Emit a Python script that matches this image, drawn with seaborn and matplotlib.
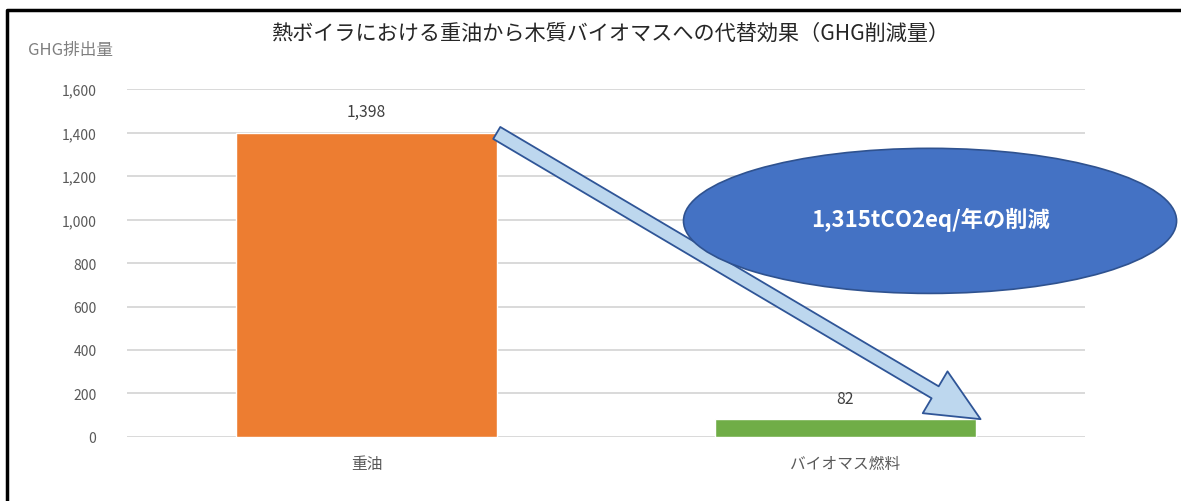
import matplotlib
matplotlib.use('Agg')
import matplotlib.pyplot as plt
import seaborn as sns
from matplotlib.patches import Ellipse, FancyArrowPatch
from matplotlib.lines import Line2D

# data
categories = ['重油', 'バイオマス燃料']
ghg_values = [1398, 82]
value_labels = ['1,398', '82']
bar_colors = ['#ED7D31', '#70AD47']
y_ticks = [0, 200, 400, 600, 800, 1000, 1200, 1400, 1600]
y_tick_labels = ['0', '200', '400', '600', '800', '1,000', '1,200', '1,400', '1,600']
title = '熱ボイラにおける重油から木質バイオマスへの代替効果（GHG削減量）'
y_label = 'GHG排出量'
callout = '1,315tCO2eq/年の削減'

sns.set_theme(style='white')
plt.rcParams['font.family'] = ['Noto Sans CJK JP', 'DejaVu Sans']

fig = plt.figure(figsize=(11.81, 5.02), dpi=100)
ax = fig.add_axes([0.1075, 0.1275, 0.8112, 0.6932])

bar_w = 0.544
sns.barplot(x=categories, y=ghg_values, hue=categories, palette=bar_colors,
            width=bar_w, legend=False, ax=ax, saturation=1, zorder=2)

ax.set_ylim(0, 1600)
ax.set_xlim(-0.5, 1.5)
ax.set_yticks(y_ticks)
ax.set_yticklabels(y_tick_labels, fontsize=10, color='#595959')
ax.tick_params(axis='x', labelsize=11.3, colors='#595959', pad=13, length=0)
ax.tick_params(axis='y', length=0, pad=22)
ax.grid(axis='y', color='#d9d9d9', linewidth=1.4, zorder=0)
ax.set_axisbelow(True)
for s in ax.spines.values():
    s.set_visible(False)
ax.set_xlabel('')
ax.set_ylabel('')

# value labels
for i, (v, lab) in enumerate(zip(ghg_values, value_labels)):
    ax.annotate(lab, (i, v), xytext=(0, 9), textcoords='offset points',
                ha='center', va='bottom', fontsize=11.3, color='#404040')

# titles
fig.text(0.5165, 0.932, title, ha='center', va='center', fontsize=15.2, color='#262626')
fig.text(0.060, 0.90, y_label, ha='center', va='center', fontsize=12, color='#7f7f7f')

# arrow from oil bar top to biomass bar
arrow = FancyArrowPatch((bar_w / 2, ghg_values[0]), (1 + bar_w / 2 + 0.01, ghg_values[1]),
                        arrowstyle='simple,head_length=38,head_width=35,tail_width=10',
                        mutation_scale=1, facecolor='#BDD7EE', edgecolor='#2F5597',
                        linewidth=1.3, shrinkA=0, shrinkB=0, zorder=5, clip_on=False)
ax.add_patch(arrow)

# callout ellipse
ell = Ellipse((0.7875, 0.558), 0.4175, 0.289, transform=fig.transFigure,
              facecolor='#4472C4', edgecolor='#2F528F', linewidth=1.2, zorder=4)
fig.patches.append(ell)
fig.text(0.7875, 0.562, callout, ha='center', va='center', fontsize=16,
         color='white', fontweight='bold', zorder=6)

# frame on top and left
fig.add_artist(Line2D([7 / 1181, 7 / 1181, 1.0], [0.0, 1 - 11 / 502, 1 - 11 / 502],
                      transform=fig.transFigure, color='black', linewidth=2.5))

fig.savefig('out.png', dpi=100)
plt.close('all')
